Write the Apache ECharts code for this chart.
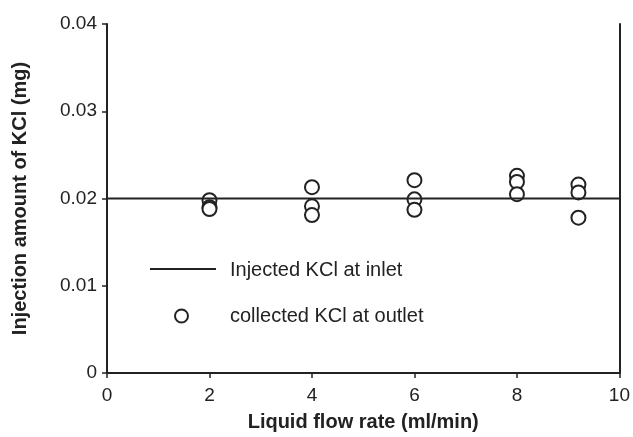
<!DOCTYPE html>
<html>
<head>
<meta charset="utf-8">
<script src="https://cdn.jsdelivr.net/npm/echarts@6/dist/echarts.min.js"></script>
<style>
  html, body { margin: 0; padding: 0; background: #fff; }
  #chart { width: 633px; height: 437px; }
</style>
</head>
<body>
<div id="chart"></div>
<script>
// injected amount at inlet (constant line)
const inletLine = [[0, 0.02], [10, 0.02]];

// collected KCl at outlet, three runs per flow rate
const flowRates = [2, 4, 6, 8, 9.2];
const outletRun1 = [0.0198, 0.0213, 0.0221, 0.0226, 0.0216];
const outletRun2 = [0.0190, 0.0191, 0.0199, 0.0219, 0.0207];
const outletRun3 = [0.0188, 0.0181, 0.0187, 0.0205, 0.0178];

const xTicks = [0, 2, 4, 6, 8, 10];
const yTicks = [0, 0.01, 0.02, 0.03, 0.04];

const outletPoints = [];
flowRates.forEach((x, i) => {
    outletPoints.push([x, outletRun1[i]]);
    outletPoints.push([x, outletRun2[i]]);
    outletPoints.push([x, outletRun3[i]]);
});

const FONT = 'Liberation Sans, Arial, sans-serif';
const INK = '#222';

const chart = echarts.init(document.getElementById('chart'));

chart.setOption({
    backgroundColor: '#fff',
    animation: false,
    grid: { left: 107, right: 11, top: 24, bottom: 58 },
    xAxis: {
        type: 'value',
        min: xTicks[0],
        max: xTicks[xTicks.length - 1],
        interval: 2,
        name: 'Liquid flow rate (ml/min)',
        nameLocation: 'middle',
        nameGap: 39,
        nameTextStyle: { fontFamily: FONT, fontSize: 20, fontWeight: 'bold', color: INK },
        axisLine: { lineStyle: { color: INK, width: 2 } },
        axisTick: { length: 5, lineStyle: { color: INK, width: 1.5 } },
        axisLabel: { fontFamily: FONT, fontSize: 19, color: INK, margin: 13 },
        splitLine: { show: false }
    },
    yAxis: [
        {
            type: 'value',
            min: yTicks[0],
            max: yTicks[yTicks.length - 1],
            interval: 0.01,
            name: 'Injection amount of KCl (mg)',
            nameLocation: 'middle',
            nameGap: 77,
            nameTextStyle: { fontFamily: FONT, fontSize: 20, fontWeight: 'bold', color: INK },
            axisLine: { show: true, lineStyle: { color: INK, width: 2 } },
            axisTick: { show: true, length: 5, lineStyle: { color: INK, width: 1.5 } },
            axisLabel: {
                fontFamily: FONT, fontSize: 19, color: INK, margin: 10,
                formatter: v => (v === 0 ? '0' : v.toFixed(2))
            },
            splitLine: { show: false }
        },
        {
            type: 'value',
            position: 'right',
            min: 0,
            max: 0.04,
            interval: 0.01,
            axisLine: { show: true, lineStyle: { color: INK, width: 2 } },
            axisTick: { show: false },
            axisLabel: { show: false },
            splitLine: { show: false }
        }
    ],
    series: [
        {
            name: 'Injected KCl at inlet',
            type: 'line',
            data: inletLine,
            symbol: 'none',
            lineStyle: { color: INK, width: 2 }
        },
        {
            name: 'collected KCl at outlet',
            type: 'scatter',
            data: outletPoints,
            symbol: 'circle',
            symbolSize: 14,
            itemStyle: { color: '#fff', borderColor: INK, borderWidth: 2, opacity: 1 }
        }
    ],
    graphic: [
        { type: 'line', shape: { x1: 150, y1: 269, x2: 216, y2: 269 }, style: { stroke: INK, lineWidth: 2 } },
        { type: 'text', x: 230, y: 270, style: { text: 'Injected KCl at inlet', fontFamily: FONT, fontSize: 20, fill: INK, verticalAlign: 'middle' } },
        { type: 'circle', shape: { cx: 181.5, cy: 316, r: 6.5 }, style: { fill: '#fff', stroke: INK, lineWidth: 2 } },
        { type: 'text', x: 230, y: 316, style: { text: 'collected KCl at outlet', fontFamily: FONT, fontSize: 20, fill: INK, verticalAlign: 'middle' } }
    ]
});
</script>
</body>
</html>
